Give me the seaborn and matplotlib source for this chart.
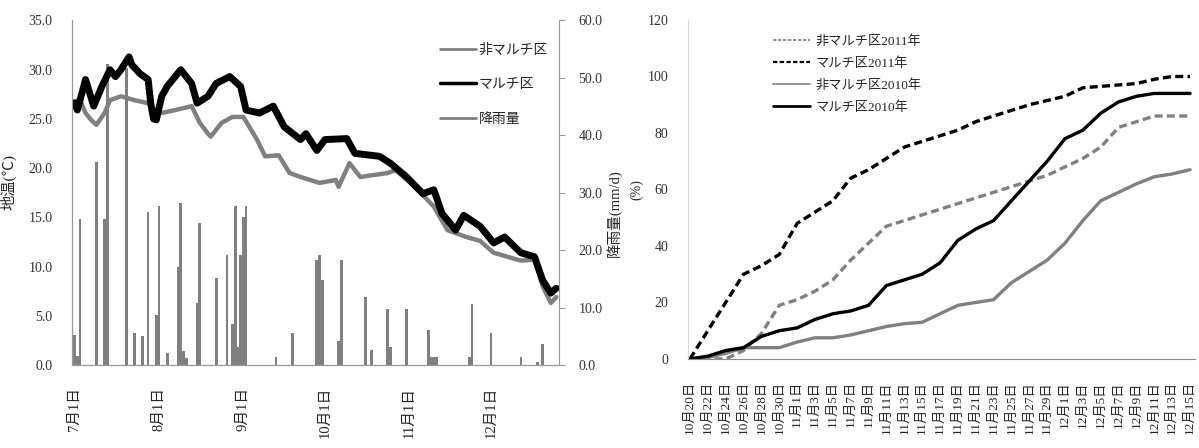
"""Soil temperature / rainfall (left) and cumulative emergence rate (right)"""

import numpy as np
import pandas as pd
import matplotlib
matplotlib.use("Agg")
import matplotlib.pyplot as plt
from matplotlib.lines import Line2D
import seaborn as sns

sns.set_style("white")
plt.rcParams['font.family'] = ['Liberation Serif', 'Noto Sans CJK JP', 'DejaVu Sans']

GREY = '#808080'
BLACK = '#000000'

# ---- left panel data (day 0 = 7月1日) ----
mulch_days = [0, 1, 4, 7, 10, 13, 15, 17, 20, 21, 24, 27, 28, 29, 30, 32, 34, 39,
              43, 45, 49, 52, 57, 61, 63, 68, 73, 77, 83, 85, 89, 92, 100, 103,
              112, 116, 122, 128, 132, 135, 140, 143, 149, 154, 158, 164, 169,
              172, 175, 177]
mulch_temp = [26.6, 25.9, 29.0, 26.3, 28.3, 30.0, 29.3, 30.0, 31.3, 30.5, 29.6,
              29.0, 26.5, 25.0, 24.9, 27.3, 28.3, 30.0, 28.6, 26.6, 27.3, 28.6,
              29.3, 28.3, 25.9, 25.6, 26.3, 24.2, 22.9, 23.5, 21.8, 22.9, 23.0,
              21.5, 21.2, 20.5, 19.1, 17.4, 17.8, 15.4, 13.7, 15.2, 14.1, 12.4,
              13.0, 11.4, 11.0, 8.6, 7.3, 7.8]

nonmulch_days = [0, 2, 4, 6, 8, 11, 13, 17, 22, 27, 29, 32, 37, 43, 46, 49, 50,
                 54, 58, 62, 67, 70, 75, 79, 83, 90, 96, 97, 101, 105, 115, 118,
                 125, 132, 137, 144, 149, 154, 164, 169, 172, 175, 177]
nonmulch_temp = [26.8, 26.9, 25.6, 24.9, 24.4, 25.6, 26.9, 27.3, 26.9, 26.6, 25.9,
                 25.6, 25.9, 26.3, 24.6, 23.5, 23.2, 24.6, 25.2, 25.2, 22.9, 21.2,
                 21.3, 19.5, 19.1, 18.5, 18.8, 18.1, 20.5, 19.1, 19.5, 19.8, 18.1,
                 16.1, 13.7, 13.0, 12.6, 11.4, 10.6, 10.7, 8.0, 6.3, 6.9]

rain_days = [0, 1, 2, 8, 11, 12, 19, 22, 25, 27, 30, 31, 34, 38, 39, 40, 41, 45,
             46, 52, 56, 58, 59, 60, 61, 62, 63, 74, 80, 89, 90, 91, 97, 98, 107,
             109, 115, 116, 122, 130, 131, 132, 133, 145, 146, 153, 164, 170, 172]
rain_mm = [5.2, 1.5, 25.4, 35.3, 25.4, 52.5, 51.8, 5.6, 5.1, 26.7, 8.7, 27.7,
           2.1, 17.1, 28.2, 2.5, 1.2, 10.8, 24.7, 15.2, 19.2, 7.2, 27.7, 3.2,
           19.2, 25.7, 27.7, 1.4, 5.6, 18.3, 19.2, 14.8, 4.1, 18.3, 11.8, 2.6,
           9.7, 3.2, 9.7, 6.1, 1.4, 1.4, 1.4, 1.4, 10.7, 5.6, 1.4, 0.6, 3.6]

month_days = [0, 31, 62, 92, 123, 153]
month_labels = ['7月1日', '8月1日', '9月1日', '10月1日', '11月1日', '12月1日']

# ---- right panel data ----
dates = ['10月20日', '10月22日', '10月24日', '10月26日', '10月28日', '10月30日',
         '11月1日', '11月3日', '11月5日', '11月7日', '11月9日', '11月11日',
         '11月13日', '11月15日', '11月17日', '11月19日', '11月21日', '11月23日',
         '11月25日', '11月27日', '11月29日', '12月1日', '12月3日', '12月5日',
         '12月7日', '12月9日', '12月11日', '12月13日', '12月15日']
nonmulch_2011 = [0, 0, 0, 3, 9, 19, 21, 24, 28, 35, 41, 47, 49, 51, 53, 55, 57,
                 59, 61, 63, 65, 68, 71, 75, 82, 84, 86, 86, 86]
mulch_2011 = [0, 10, 20, 30, 33, 37, 48, 52, 56, 64, 67, 71, 75, 77, 79, 81, 84,
              86, 88, 90, 91.5, 93, 96, 96.5, 97, 97.5, 99, 100, 100]
nonmulch_2010 = [0, 0.5, 2, 4, 4, 4, 6, 7.5, 7.5, 8.5, 10, 11.5, 12.5, 13, 16, 19,
                 20, 21, 27, 31, 35, 41, 49, 56, 59, 62, 64.5, 65.5, 67]
mulch_2010 = [0, 1, 3, 4, 8, 10, 11, 14, 16, 17, 19, 26, 28, 30, 34, 42, 46, 49,
              56, 63, 70, 78, 81, 87, 91, 93, 94, 94, 94]

fig = plt.figure(figsize=(11.99, 4.48), dpi=100)

# ================= left panel =================
ax1 = fig.add_axes([0.0600, 0.1853, 0.4062, 0.769])
ax2 = ax1.twinx()

ax2.bar(rain_days, rain_mm, width=1.0, color=GREY, linewidth=0)
ax2.set_ylim(0, 60)
ax2.set_yticks(np.arange(0, 61, 10))
ax2.set_yticklabels([f'{v:.1f}' for v in np.arange(0, 61, 10)])

sns.lineplot(x=nonmulch_days, y=nonmulch_temp, ax=ax1, color=GREY, linewidth=3.2)
sns.lineplot(x=mulch_days, y=mulch_temp, ax=ax1, color=BLACK, linewidth=5)
ax1.set_zorder(ax2.get_zorder() + 1)
ax1.patch.set_visible(False)

ax1.set_xlim(-1, 178)
ax1.set_ylim(0, 35)
ax1.set_yticks(np.arange(0, 36, 5))
ax1.set_yticklabels([f'{v:.1f}' for v in np.arange(0, 36, 5)])
ax1.set_xticks(month_days)
ax1.set_xticklabels(month_labels, rotation=90, va='top')
ax1.tick_params(axis='x', length=0, pad=16, labelsize=10.5, colors='#222222')
ax1.tick_params(axis='y', length=0, pad=14, labelsize=10, colors='#333333')
ax2.tick_params(axis='y', length=4, width=0.8, color='#999999', pad=10,
                labelsize=10, labelcolor='#333333', direction='out')

for ax in (ax1, ax2):
    ax.spines['top'].set_visible(False)
    ax.spines['left'].set_color('#999999')
    ax.spines['right'].set_color('#999999')
    ax.spines['bottom'].set_color('#999999')
ax1.spines['right'].set_visible(False)

ax1.set_ylabel('地温(℃)', fontsize=11)
ax1.yaxis.set_label_coords(-0.113, 0.53)
ax2.set_ylabel('降雨量(mm/d)', fontsize=10.5)
ax2.yaxis.set_label_coords(1.097, 0.44)

left_handles = [Line2D([], [], color=GREY, lw=2),
                Line2D([], [], color=BLACK, lw=2.5),
                Line2D([], [], color=GREY, lw=2)]
ax1.legend(left_handles, ['非マルチ区', 'マルチ区', '降雨量'], loc='upper left',
           bbox_to_anchor=(0.73, 0.97), frameon=False, fontsize=10,
           handlelength=2.6, handletextpad=0.2, labelspacing=1.55)

# ================= right panel =================
ax3 = fig.add_axes([0.5738, 0.1987, 0.4229, 0.7567])
idx = np.arange(len(dates))

series = [
    (nonmulch_2011, GREY, (2.4, 1.3)),
    (mulch_2011, BLACK, (2.4, 1.3)),
    (nonmulch_2010, GREY, None),
    (mulch_2010, BLACK, None),
]
for vals, col, dash in series:
    line_ax = sns.lineplot(x=idx, y=vals, ax=ax3, color=col, linewidth=2.4)
    if dash is not None:
        line_ax.lines[-1].set_dashes(dash)

ax3.set_xlim(-0.11, 28.28)
ax3.set_ylim(0, 120)
ax3.set_yticks(np.arange(0, 121, 20))
ax3.set_xticks(idx)
ax3.set_xticklabels(dates, rotation=90, va='top')
ax3.tick_params(axis='x', length=0, pad=16, labelsize=9.5, colors='#222222')
ax3.tick_params(axis='y', length=0, pad=14, labelsize=10, colors='#333333')
ax3.spines['top'].set_visible(False)
ax3.spines['right'].set_visible(False)
ax3.spines['left'].set_color('#d9d9d9')
ax3.spines['bottom'].set_color('#8c8c8c')
ax3.set_ylabel('(%)', fontsize=10)
ax3.yaxis.set_label_coords(-0.088, 0.5)

right_handles = [Line2D([], [], color=GREY, lw=1.2, dashes=(2, 1)),
                 Line2D([], [], color=BLACK, lw=1.6, dashes=(2, 1)),
                 Line2D([], [], color=GREY, lw=1.2),
                 Line2D([], [], color=BLACK, lw=2)]
ax3.legend(right_handles, ['非マルチ区2011年', 'マルチ区2011年', '非マルチ区2010年', 'マルチ区2010年'],
           loc='upper left', bbox_to_anchor=(0.145, 0.99), frameon=False,
           fontsize=9.5, handlelength=2.8, handletextpad=0.4, labelspacing=0.7)

plt.savefig('out.png', dpi=100)
plt.close()
